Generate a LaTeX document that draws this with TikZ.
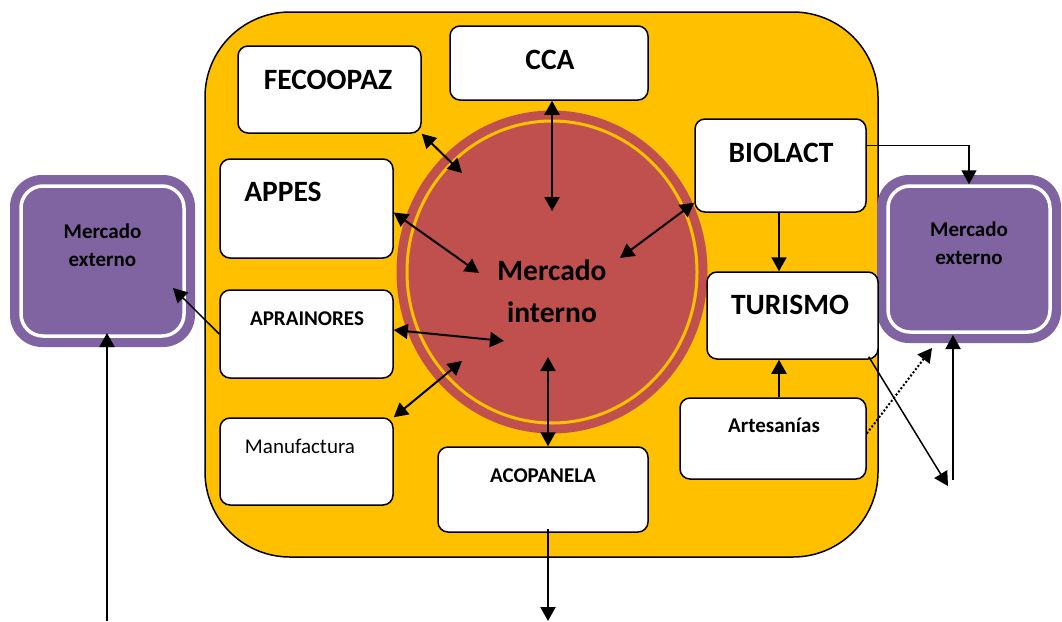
\documentclass[tikz,border=0pt]{standalone}
\usepackage{fontspec}
\setmainfont{Carlito}
\usetikzlibrary{arrows.meta, positioning, shapes.geometric}
\definecolor{amarillo}{HTML}{FFC000}
\definecolor{rojo}{HTML}{C0504D}
\definecolor{morado}{HTML}{8064A2}

\begin{document}
\begin{tikzpicture}[x=1pt, y=-1pt, >={Triangle[length=14pt,width=15pt]},
  caja/.style={draw, line width=1.5pt, rounded corners=10pt, fill=white, inner sep=0pt},
  externo/.style={fill=morado, rounded corners=32pt, inner sep=0pt},
  externoin/.style={draw=white, line width=3.5pt, rounded corners=22pt, inner sep=0pt,
    font=\fontsize{21}{28}\selectfont\bfseries, align=center},
  grande/.style={font=\fontsize{29.5}{42}\selectfont\bfseries, anchor=base},
  chico/.style={font=\fontsize{21}{24}\selectfont\bfseries, anchor=base},
  flecha/.style={line width=2pt}]

\useasboundingbox (0,0) rectangle (1062,621);

% Zona central
\node[draw, line width=1.5pt, fill=amarillo, rounded corners=85pt, inner sep=0pt,
  minimum width=673pt, minimum height=545pt] (zona) at (541.5,284.5) {};

% Mercado interno
\node[ellipse, fill=rojo, inner sep=0pt, minimum width=311pt, minimum height=323pt] (mi) at (552,272) {};
\node[ellipse, draw=amarillo, line width=3pt, inner sep=0pt, minimum width=290pt, minimum height=302pt] (mi-in) at (552,272) {};
\node[grande, align=center, anchor=center] (mi-t) at (552,291) {Mercado\\interno};

% Mercados externos
\node[externo, minimum width=185pt, minimum height=172pt] (mel) at (102.5,261) {};
\node[externoin, minimum width=163pt, minimum height=150pt, text depth=32pt] (mel-in) at (102.5,261) {Mercado\\externo};
\node[externo, minimum width=184pt, minimum height=168pt] (mer) at (969,259) {};
\node[externoin, minimum width=162pt, minimum height=146pt, text depth=32pt] (mer-in) at (969,259) {Mercado\\externo};

% Organizaciones
\node[caja, minimum width=183pt, minimum height=87pt] (fecoopaz) at (329.5,89.5) {};
\node[caja, minimum width=198pt, minimum height=74pt] (cca) at (549,63) {};
\node[caja, minimum width=173pt, minimum height=99pt] (appes) at (306.5,208.5) {};
\node[caja, minimum width=173pt, minimum height=88pt] (aprainores) at (306.5,334) {};
\node[caja, minimum width=173pt, minimum height=87pt] (manufactura) at (306.5,461.5) {};
\node[caja, minimum width=210pt, minimum height=85pt] (acopanela) at (543,489.5) {};
\node[caja, minimum width=171pt, minimum height=93pt] (biolact) at (780.5,165.5) {};
\node[caja, minimum width=171pt, minimum height=87pt] (turismo) at (792.5,315.5) {};
\node[caja, minimum width=186pt, minimum height=81pt] (artesanias) at (773,438.5) {};

\node[grande] (fecoopaz-t) at (328,89) {FECOOPAZ};
\node[grande] (cca-t) at (550,69) {CCA};
\node[grande] (appes-t) at (283,201) {APPES};
\node[chico] (aprainores-t) at (307,325) {APRAINORES};
\node[chico, font=\fontsize{21}{24}\selectfont] (manufactura-t) at (300,453) {Manufactura};
\node[chico] (acopanela-t) at (543,482) {ACOPANELA};
\node[grande] (biolact-t) at (781,162) {BIOLACT};
\node[grande] (turismo-t) at (790,314) {TURISMO};
\node[chico] (artesanias-t) at (774,432) {Artesanías};

% Extremos libres
\coordinate (mi-cca) at (552,211);
\coordinate (mi-fec) at (462,173);
\coordinate (mi-app) at (479,273);
\coordinate (mi-bio) at (620,258);
\coordinate (mi-apr) at (504,341);
\coordinate (mi-man) at (462,361);
\coordinate (mi-aco) at (548,357);
\coordinate (mel-a) at (173,288);
\coordinate (mel-b) at (107,333);
\coordinate (abajo-l) at (107,621);
\coordinate (abajo-c) at (548,621);
\coordinate (mer-a) at (953,335);
\coordinate (mer-b) at (953,480);
\coordinate (mer-c) at (932,348);
\coordinate (mer-d) at (948,486);
\coordinate (eje) at (779,0);

% Relaciones con el mercado interno
\draw[flecha, <->] (cca.south -| mi-cca) -- (mi-cca);
\draw[flecha, <->] (fecoopaz.south east) -- (mi-fec);
\draw[flecha, <->] ([yshift=-4pt]appes.east) -- (mi-app);
\draw[flecha, <->] ([yshift=10pt]biolact.south west) -- (mi-bio);
\draw[flecha, <->] ([yshift=4pt]aprainores.east) -- (mi-apr);
\draw[flecha, <->] (manufactura.north east) -- (mi-man);
\draw[flecha, <->] (mi-aco) -- (acopanela.north -| mi-aco);

% Relaciones entre organizaciones
\draw[flecha, ->] (biolact.south -| eje) -- (turismo.north -| eje);
\draw[flecha, ->] (artesanias.north -| eje) -- (turismo.south -| eje);

% Salidas
\draw[line width=1.5pt, ->] ([yshift=20pt]biolact.east) -| (mer-in.north);
\draw[line width=1.5pt, ->] ([xshift=-10pt,yshift=3pt]turismo.south east) -- (mer-d);
\draw[flecha, ->] (mer-b) -- (mer-a);
\draw[line width=2pt, dotted, ->] ([yshift=5pt]artesanias.east) -- (mer-c);
\draw[line width=1.5pt, ->] (aprainores.west) -- (mel-a);
\draw[flecha, ->] (abajo-l) -- (mel-b);
\draw[flecha, ->] ([yshift=4pt]acopanela.south -| abajo-c) -- (abajo-c);

\end{tikzpicture}
\end{document}
